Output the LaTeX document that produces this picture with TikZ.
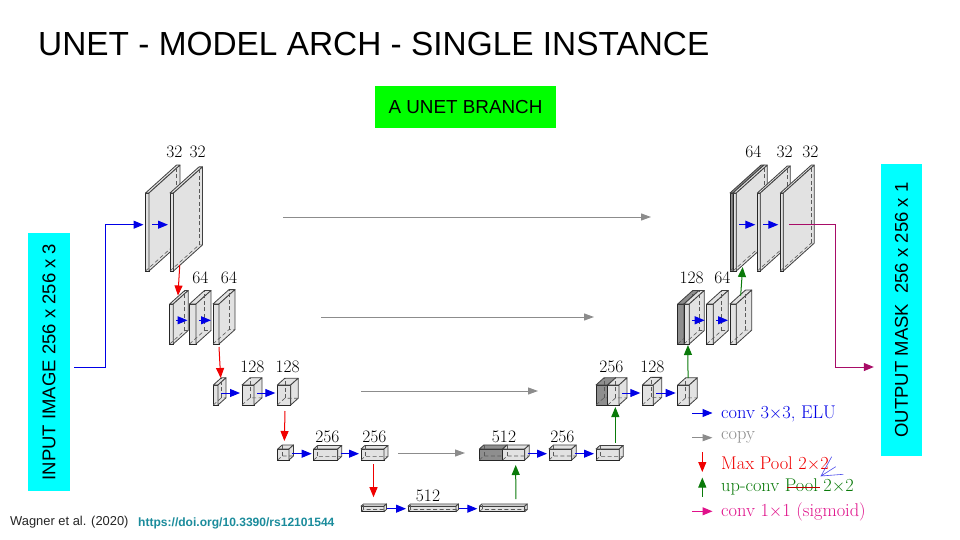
\documentclass[tikz,border=0pt]{standalone}
\usepackage{fontspec}
\newfontfamily\arialfont{Liberation Sans}
\usepackage{tikz}
\usetikzlibrary{arrows.meta,positioning}
\definecolor{mapgray}{HTML}{E2E2E2}
\definecolor{mapdark}{HTML}{8E8E8E}
\definecolor{convblue}{HTML}{0000E6}
\definecolor{copygray}{HTML}{8C8C8C}
\definecolor{poolred}{HTML}{F00000}
\definecolor{upgreen}{HTML}{0A7A0A}
\definecolor{sigpink}{HTML}{E0108A}
\definecolor{doiteal}{HTML}{1B8C9C}
\definecolor{bandcyan}{HTML}{00FFFF}
\definecolor{branchgreen}{HTML}{00FF00}
\newcommand{\fmap}[8][mapgray]{%
\node[face,fill=#1,minimum width=#4,minimum height=#6] (#2) at ({#3+#4/2},{#5-#6/2}) {};
\draw[side,fill=#1] (#2.north west)--++(#7,-#7*0.9)--++(#4,0)--++(-#7,#7*0.9)--cycle;
\draw[side,fill=#1] (#2.north east)--++(#7,-#7*0.9)--++(0,#6)--++(-#7,#7*0.9)--cycle;
\draw[hidden] (#2.south west)--++(#7,-#7*0.9)--++(#4,0);
\draw[hidden] (#2.south west)++(#7,-#7*0.9)--++(0,-#6);
\coordinate (#2-in) at ({#3-2},#8);
\coordinate (#2-out) at ({#3+#4+3},#8);
}
\begin{document}
\begin{tikzpicture}[x=1pt,y=-1pt,
face/.style={draw=black!85,line width=0.9pt,inner sep=0pt,outer sep=0pt},
side/.style={draw=black!75,line width=0.8pt,line join=round},
hidden/.style={draw=black!65,line width=0.6pt,dashed,dash pattern=on 4pt off 2.5pt},
dim/.style={font=\fontsize{17.5}{17.5}\selectfont,inner sep=0pt},
conv/.style={-{Triangle[length=10pt,width=8pt]},convblue,line width=1pt},
copyarr/.style={-{Triangle[length=10pt,width=7pt]},copygray,line width=1pt},
pool/.style={-{Triangle[length=10pt,width=8pt]},poolred,line width=1pt},
upconv/.style={-{Triangle[length=10pt,width=8pt]},upgreen,line width=1pt},
sigm/.style={-{Triangle[length=10pt,width=8pt]},sigpink,line width=1pt},
lgd/.style={font=\fontsize{18.4}{18.4}\selectfont,inner sep=0pt,anchor=west},
band/.style={font=\arialfont\fontsize{18.5}{18.5}\selectfont,inner sep=0pt,rotate=90}]
\path[use as bounding box,fill=white] (0,0) rectangle (960,540);
\node[font=\arialfont\fontsize{33.4}{33.4}\selectfont,inner sep=0pt,anchor=west] (title) at (38,44) {UNET - MODEL ARCH - SINGLE INSTANCE};
\node[fill=branchgreen,minimum width=181,minimum height=42,inner sep=0pt,font=\arialfont\fontsize{18.85}{18.85}\selectfont] (branch) at (465.5,107) {A UNET BRANCH};
\node[band,fill=bandcyan,minimum width=258,minimum height=42] (inp) at (49,362) {INPUT IMAGE 256 x 256 x 3};
\node[band,fill=bandcyan,minimum width=292,minimum height=41] (outp) at (901.5,310) {OUTPUT MASK\ \ 256 x 256 x 1};
\fmap{e1a}{145.5}{3.5}{271}{78}{31}{224.7}
\fmap{e1b}{170}{3.5}{271}{78}{29}{224.7}
\fmap{e2a}{169.7}{3.5}{344}{40}{15}{320.3}
\fmap{e2b}{189.5}{6.5}{344}{40}{15}{320.3}
\fmap{e2c}{213}{6}{344}{40}{16}{320.3}
\fmap{e3a}{213.3}{4.7}{405}{20}{8}{393}
\fmap{e3b}{242}{12}{405}{20}{8}{393}
\fmap{e3c}{277.3}{13.4}{405}{20}{7.5}{393}
\fmap{e4a}{277.7}{11.3}{460}{11}{4.5}{453.7}
\fmap{e4b}{313.7}{24}{460}{11}{4}{453.7}
\fmap{e4c}{361}{23}{460}{11}{4}{453.7}
\fmap{e5a}{361}{23}{511.7}{5.5}{2.5}{508.7}
\fmap{e5b}{408}{48}{511.7}{5.5}{2.5}{508.7}
\fmap{e5c}{479.3}{45.5}{511.7}{5.5}{2.5}{508.7}
\fmap[mapdark]{d4x}{479.3}{23.4}{460}{11}{4.5}{453.7}
\fmap{d4a}{502.7}{22}{460}{11}{4.5}{453.7}
\fmap{d4b}{549}{22.7}{460}{11}{4.5}{453.7}
\fmap{d4c}{596}{23.3}{460}{11}{4}{453.7}
\fmap[mapdark]{d3x}{596}{11.7}{405}{20}{8}{393}
\fmap{d3a}{607.7}{11.3}{405}{20}{8}{393}
\fmap{d3b}{642.3}{11}{405}{20}{8.5}{393}
\fmap{d3c}{677.7}{11.6}{405}{20}{8}{393}
\fmap[mapdark]{d2x}{677.7}{6.3}{344}{40}{15}{320.3}
\fmap{d2a}{684}{5.3}{344}{40}{15}{320.3}
\fmap{d2b}{706.7}{6.6}{344}{40}{15}{320.3}
\fmap{d2c}{730}{6.3}{344}{40}{15.5}{320.3}
\fmap[mapdark]{d1x}{730}{3}{271}{78}{31}{224.7}
\fmap{d1a}{733}{3.3}{271}{78}{31}{224.7}
\fmap{d1b}{757.3}{3}{271}{78}{30}{224.7}
\fmap{d1c}{780.3}{3}{271}{78}{31}{224.7}
\foreach \x/\y/\t in {174.3/151.7/32,197.7/151.7/32,200.3/278/64,229/278/64,252.3/367/128,287.7/367/128,327.3/437/256,374.3/437/256,428/496/512,504/437/512,562.3/437/256,611.3/367/256,652.3/367/128,691.7/278/128,722.3/278/64,753.3/151.7/64,784.7/151.7/32,810.3/151.7/32}
\node[dim] (lb\x) at (\x,\y) {\t};
\coordinate (inpbend) at (105,224.7);
\draw[conv] ([shift={(4,5)}]inp.south) -| (inpbend) -- (e1a-in);
\draw[conv] (e1a-out)--(e1b-in);
\draw[conv] (e2a-out)--(e2b-in);\draw[conv] (e2b-out)--(e2c-in);
\draw[conv] (e3a-out)--(e3b-in);\draw[conv] (e3b-out)--(e3c-in);
\draw[conv] (e4a-out)--(e4b-in);\draw[conv] (e4b-out)--(e4c-in);
\draw[conv] (e5a-out)--(e5b-in);\draw[conv] (e5b-out)--(e5c-in);
\draw[conv] (d4a-out)--(d4b-in);\draw[conv] (d4b-out)--(d4c-in);
\draw[conv] (d3a-out)--(d3b-in);\draw[conv] (d3b-out)--(d3c-in);
\draw[conv] (d2a-out)--(d2b-in);\draw[conv] (d2b-out)--(d2c-in);
\draw[conv] (d1a-out)--(d1b-in);\draw[conv] (d1b-out)--(d1c-in);
\coordinate (copy1s) at (283,217);\coordinate (copy1e) at (651,217);
\coordinate (copy2s) at (321,317);\coordinate (copy2e) at (594,317);
\coordinate (copy3s) at (361,391);\coordinate (copy3e) at (538,391);
\coordinate (copy4s) at (398,453);\coordinate (copy4e) at (465,453);
\draw[copyarr] (copy1s)--(copy1e);\draw[copyarr] (copy2s)--(copy2e);
\draw[copyarr] (copy3s)--(copy3e);\draw[copyarr] (copy4s)--(copy4e);
\draw[pool] ([shift={(8,-6)}]e1b.south)--([shift={(6.5,-8.5)}]e2a.north);
\draw[pool] ([shift={(3,3)}]e2c.south)--([shift={(5,-7)}]e3a.north);
\draw[pool] ([shift={(1,6)}]e3c.south)--([shift={(1,-8)}]e4a.north);
\draw[pool] ([shift={(1,4)}]e4c.south)--([shift={(1,-9)}]e5a.north);
\draw[upconv] ([shift={(-9,-7)}]e5c.north east)--([shift={(2,5)}]d4a.south);
\draw[upconv] ([shift={(7.7,-6.3)}]d4c.north)--([shift={(2,2)}]d3a.south);
\draw[upconv] ([shift={(4.5,-7)}]d3c.north)--([shift={(1.3,1)}]d2a.south);
\draw[upconv] ([shift={(7.5,-8.3)}]d2c.north)--([shift={(8,-4)}]d1a.south);
\coordinate (sigbend) at (835,367);
\draw[sigm,draw=sigpink!75!black] ([xshift=3]d1c-out) -| (sigbend) -- ([xshift=-7]outp.north |- sigbend);
\coordinate (k1s) at (692,413);\coordinate (k1e) at (712.5,413);
\coordinate (k2s) at (692,437.7);\coordinate (k2e) at (712.5,437.7);
\coordinate (k3s) at (702.3,452.3);\coordinate (k3e) at (702.3,472);
\coordinate (k4s) at (702.3,496.7);\coordinate (k4e) at (702.3,477.5);
\coordinate (k5s) at (692,511.3);\coordinate (k5e) at (712.5,511.3);
\draw[conv] (k1s)--(k1e);\draw[copyarr] (k2s)--(k2e);\draw[pool] (k3s)--(k3e);
\draw[upconv] (k4s)--(k4e);\draw[sigm] (k5s)--(k5e);
\node[lgd,text=convblue] (lconv) at (721,413.5) {conv 3$\times$3, ELU};
\node[lgd,text=copygray] (lcopy) at (721,437.5) {copy};
\node[lgd,text=poolred] (lpool) at (721,463.5) {Max Pool 2$\times$2};
\node[lgd,text=upgreen] (lup) at (721,486.5) {up-conv Pool 2$\times$2};
\node[lgd,text=sigpink] (lsig) at (721,511.5) {conv 1$\times$1 (sigmoid)};
\draw[poolred!80!black,line width=0.7pt] (787,487.5)--(819.5,487.5);
\draw[convblue!70,line width=0.6pt] (831.7,456.7)--(821,476)--(843.3,474.3) (821,476)--(835.7,466.7);
\node[font=\arialfont\fontsize{12.9}{12.9}\selectfont,text=black!85,inner sep=0pt,anchor=west] (cite) at (10,522) {Wagner et al. (2020)};
\node[font=\arialfont\bfseries\fontsize{12.05}{12.05}\selectfont,text=doiteal,inner sep=0pt,anchor=west] (doi) at (138,523) {https://doi.org/10.3390/rs12101544};
\end{tikzpicture}
\end{document}
